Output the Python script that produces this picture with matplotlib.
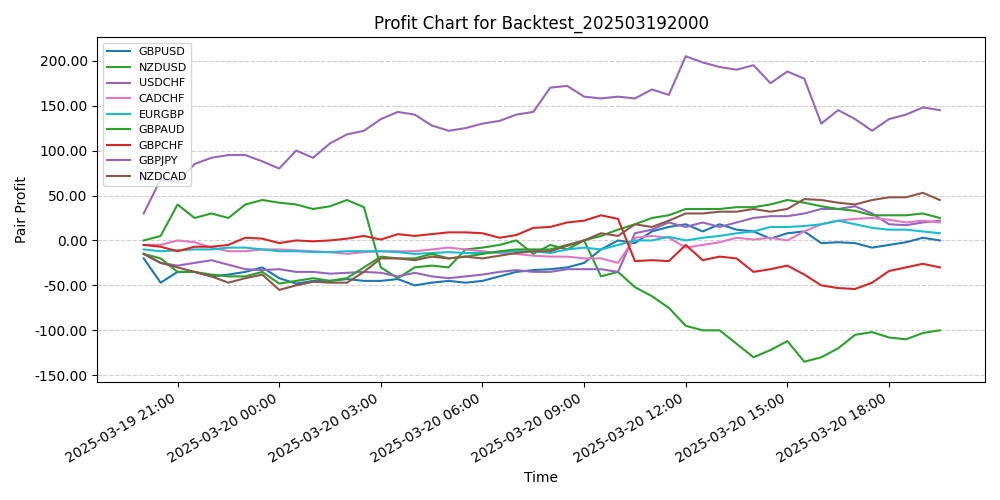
import numpy as np
import pandas as pd
import matplotlib
matplotlib.use("Agg")
import matplotlib.pyplot as plt
import matplotlib.dates as mdates
from matplotlib.ticker import FormatStrFormatter

# 30-minute samples, 2025-03-19 20:00 .. 2025-03-20 19:30
times = pd.date_range("2025-03-19 20:00", periods=48, freq="30min")

pairs = ["GBPUSD", "NZDUSD", "USDCHF", "CADCHF", "EURGBP",
         "GBPAUD", "GBPCHF", "GBPJPY", "NZDCAD"]
colors = ["tab:blue", "tab:green", "tab:purple", "tab:pink", "tab:cyan",
          "tab:green", "tab:red", "tab:purple", "tab:brown"]

gbpusd = [-20, -47, -35, -35, -40, -38, -35, -30, -42, -48, -45, -45, -43, -45, -45, -43,
          -50, -47, -45, -47, -45, -40, -35, -33, -32, -30, -25, -10, 0, -3, 10, 15,
          18, 10, 18, 12, 10, 2, 8, 10, -3, -2, -3, -8, -5, -2, 3, 0]
nzdusd = [0, 5, 40, 25, 30, 25, 40, 45, 42, 40, 35, 38, 45, 37, -30, -42,
          -30, -28, -30, -10, -8, -5, 0, -15, -5, -10, 0, -40, -35, -52, -62, -75,
          -95, -100, -100, -115, -130, -122, -112, -135, -130, -120, -105, -102, -108, -110, -103, -100]
usdchf = [-15, -25, -28, -25, -22, -27, -32, -33, -32, -35, -35, -37, -36, -35, -36, -40,
          -36, -40, -42, -40, -38, -35, -33, -35, -35, -32, -32, -32, -35, 8, 12, 20,
          15, 20, 15, 20, 25, 27, 27, 30, 35, 35, 38, 30, 18, 17, 20, 22]
cadchf = [-5, -5, 0, -2, -8, -12, -12, -10, -10, -11, -12, -13, -15, -13, -12, -12,
          -12, -10, -8, -10, -12, -14, -15, -17, -18, -18, -20, -20, -25, 3, 5, 3,
          -8, -5, -2, 3, 1, 3, 0, 10, 18, 22, 24, 25, 23, 20, 22, 20]
eurgbp = [-10, -12, -11, -10, -10, -8, -8, -10, -12, -12, -13, -13, -12, -12, -12, -13,
          -15, -14, -13, -14, -14, -13, -12, -12, -14, -10, -8, -10, -5, 0, 0, 4,
          0, 3, 5, 8, 10, 15, 15, 16, 18, 22, 18, 14, 12, 12, 10, 8]
gbpaud = [-15, -20, -35, -35, -38, -40, -40, -35, -48, -45, -42, -45, -42, -30, -18, -20,
          -20, -15, -20, -18, -15, -12, -10, -10, -10, -5, 0, 5, 12, 18, 25, 28,
          35, 35, 35, 37, 37, 40, 45, 42, 38, 35, 33, 28, 28, 28, 30, 25]
gbpchf = [-5, -7, -12, -7, -7, -5, 3, 2, -3, 0, -1, 0, 2, 5, 1, 7,
          5, 7, 9, 9, 8, 3, 6, 14, 15, 20, 22, 28, 24, -23, -22, -23,
          -5, -22, -18, -20, -35, -32, -28, -38, -50, -53, -54, -47, -34, -30, -26, -30]
gbpjpy = [30, 68, 65, 85, 92, 95, 95, 88, 80, 100, 92, 108, 118, 122, 135, 143,
          140, 128, 122, 125, 130, 133, 140, 143, 170, 172, 160, 158, 160, 158, 168, 162,
          205, 198, 193, 190, 195, 175, 188, 180, 130, 145, 135, 122, 135, 140, 148, 145]
nzdcad = [-15, -25, -30, -35, -40, -47, -42, -38, -55, -50, -46, -47, -47, -35, -20, -20,
          -22, -18, -20, -18, -20, -17, -14, -12, -12, -6, 0, 8, 5, 18, 15, 22,
          30, 30, 32, 32, 35, 32, 35, 46, 45, 42, 40, 45, 48, 48, 53, 45]

series = [gbpusd, nzdusd, usdchf, cadchf, eurgbp, gbpaud, gbpchf, gbpjpy, nzdcad]

fig, ax = plt.subplots(figsize=(10, 5), dpi=100)
for name, vals, c in zip(pairs, series, colors):
    ax.plot(times, vals, label=name, color=c, linewidth=1.5)

ax.set_title("Profit Chart for Backtest_202503192000")
ax.set_xlabel("Time")
ax.set_ylabel("Pair Profit")
ax.yaxis.set_major_formatter(FormatStrFormatter("%.2f"))
ax.set_ylim(-157, 226)
ax.set_xlim(pd.Timestamp("2025-03-19 18:38"), pd.Timestamp("2025-03-20 20:50"))
ax.xaxis.set_major_locator(mdates.HourLocator(byhour=[0, 3, 6, 9, 12, 15, 18, 21]))
ax.xaxis.set_major_formatter(mdates.DateFormatter("%Y-%m-%d %H:%M"))
ax.grid(axis="y", linestyle="--", alpha=0.6)
ax.legend(loc="upper left", fontsize=8)
fig.autofmt_xdate()
plt.tight_layout()
plt.savefig("out.png")
